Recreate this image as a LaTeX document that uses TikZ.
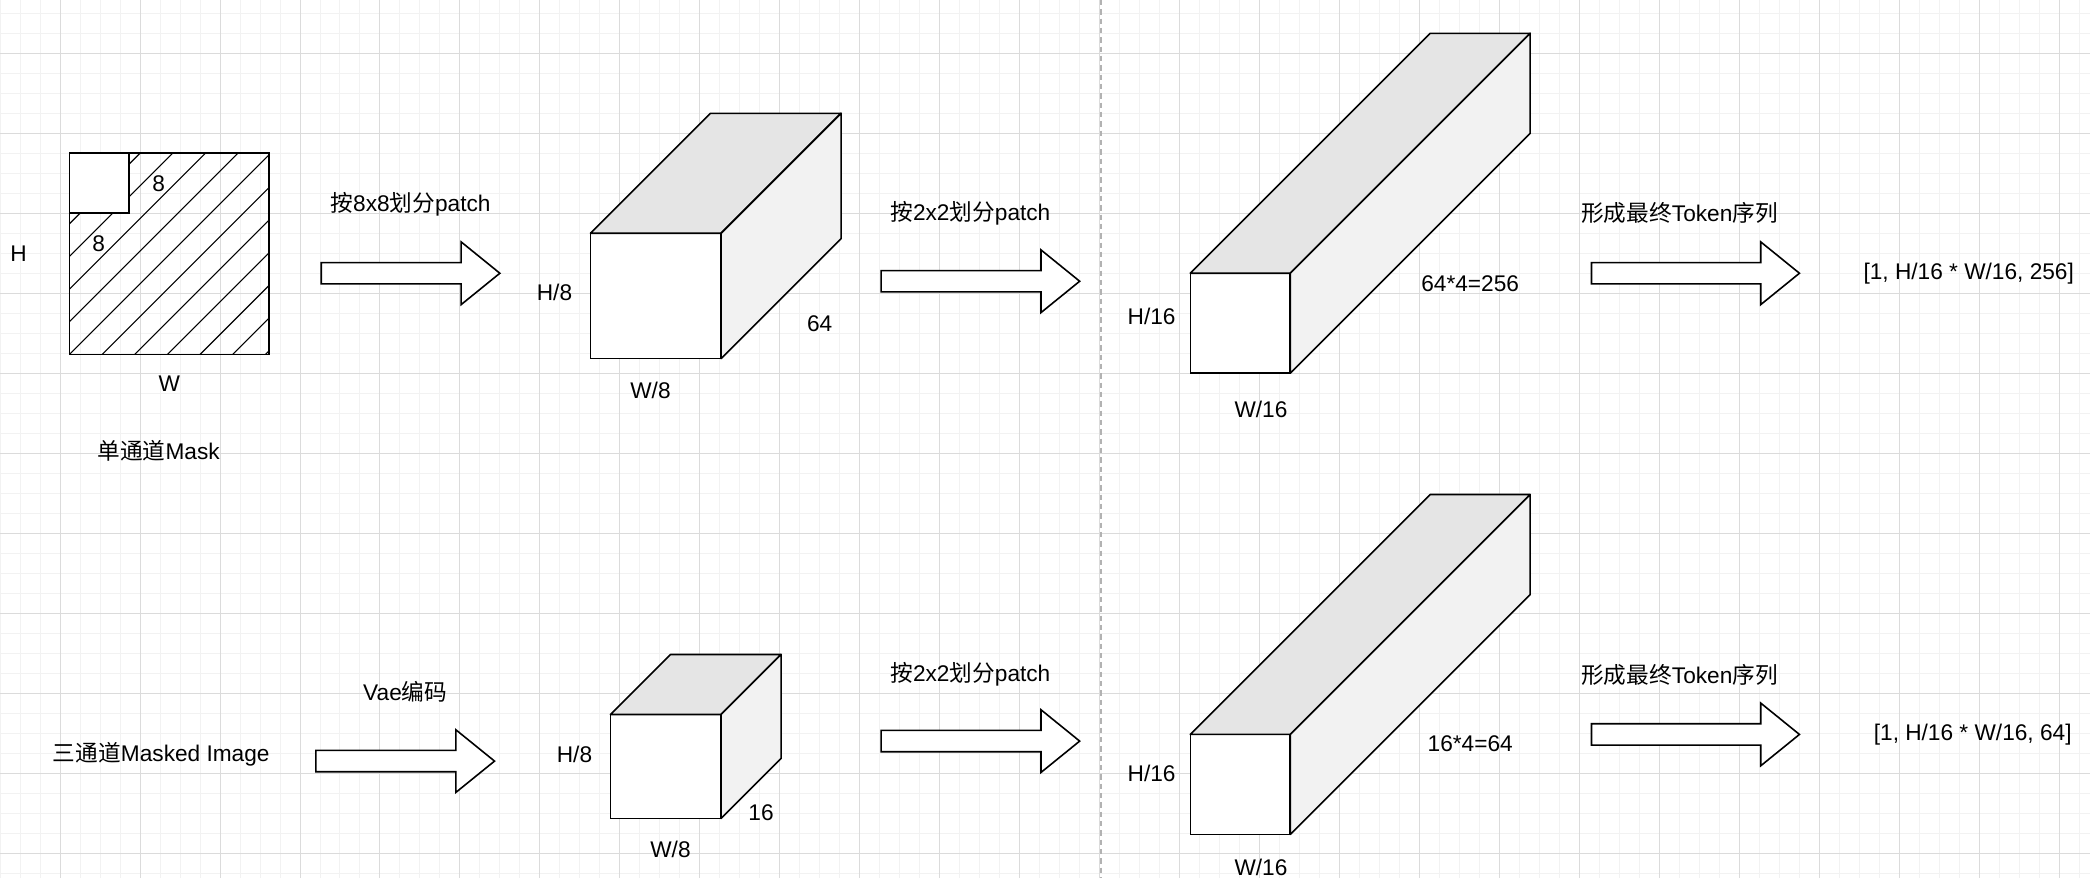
\documentclass[tikz,border=0pt]{standalone}
\usepackage{fontspec}
\setmainfont{Liberation Sans}
\newfontfamily\cjkfont{Noto Sans CJK SC}
\newcommand{\zh}[1]{{\cjkfont #1}}
\usetikzlibrary{positioning,calc}

\begin{document}
\begin{tikzpicture}[x=1pt,y=-1pt]
	\tikzstyle{every node}=[font=\fontsize{17}{20}\selectfont,inner sep=0pt]
	\tikzstyle{gridminor}=[draw=black!5,line width=0.6pt]
	\tikzstyle{gridmajor}=[draw=black!14,line width=0.6pt]
	\tikzstyle{divider}=[draw=black!30,line width=0.8pt,dash pattern=on 4pt off 3pt]
	\tikzstyle{front}=[draw,fill=white,line width=1.2pt,outer sep=0pt,anchor=north west]
	\tikzstyle{topface}=[draw,fill=black!10,line width=1.2pt,line join=round]
	\tikzstyle{sideface}=[draw,fill=black!5,line width=1.2pt,line join=round]
	\tikzstyle{blockarrow}=[draw,fill=white,line width=1.2pt]
	\tikzstyle{hatch}=[line width=0.8pt]

	%% background grid
	\useasboundingbox (0,0) rectangle (1568,659);
	\fill[white] (0,0) rectangle (1568,659);
	\foreach \x in {0,15,...,1568} \draw[gridminor] (\x,0) -- (\x,659);
	\foreach \y in {10,25,...,659} \draw[gridminor] (0,\y) -- (1568,\y);
	\foreach \x in {45,105,...,1568} \draw[gridmajor] (\x,0) -- (\x,659);
	\foreach \y in {40,100,...,659} \draw[gridmajor] (0,\y) -- (1568,\y);
	\draw[divider] (826,0) -- (826,659);

	%% single channel mask
	\begin{scope}
		\clip (52,115) rectangle (202,266);
		\foreach \k in {-6,...,6}
			\draw[hatch] (52+24.5*\k,266) -- ++(151,-151);
	\end{scope}
	\node[front,fill=none,minimum width=150pt,minimum height=151pt] (mask) at (52,115) {};
	\node[front,minimum size=45pt] (cell) at (mask.north west) {};
	\node (cellw) at (119,138) {8};
	\node (cellh) at (74,183) {8};
	\node (maskh) at (14,190) {H};
	\node (maskw) at (127,288) {W};
	\node (masklbl) at (119,338) {\zh{单通道}Mask};

	%% masked image
	\node (imglbl) at (121,566) {\zh{三通道}Masked Image};

	%% cuboids
	\node[front,minimum width=98pt,minimum height=94pt] (c1) at (443,175) {};
	\draw[topface] (c1.north west) -- ++(90,-90) -- ++(98,0) -- (c1.north east) -- cycle;
	\draw[sideface] (c1.north east) -- ++(90,-90) -- ++(0,94) -- (c1.south east) -- cycle;
	\node (c1h) at (416,219) {H/8};
	\node (c1w) at (488,293) {W/8};
	\node (c1d) at (615,243) {64};

	\node[front,minimum width=83pt,minimum height=78pt] (c2) at (458,536) {};
	\draw[topface] (c2.north west) -- ++(45,-45) -- ++(83,0) -- (c2.north east) -- cycle;
	\draw[sideface] (c2.north east) -- ++(45,-45) -- ++(0,78) -- (c2.south east) -- cycle;
	\node (c2h) at (431,566) {H/8};
	\node (c2w) at (503,637) {W/8};
	\node (c2d) at (571,610) {16};

	\node[front,minimum width=75pt,minimum height=75pt] (c3) at (893,205) {};
	\draw[topface] (c3.north west) -- ++(180,-180) -- ++(75,0) -- (c3.north east) -- cycle;
	\draw[sideface] (c3.north east) -- ++(180,-180) -- ++(0,75) -- (c3.south east) -- cycle;
	\node (c3h) at (864,237) {H/16};
	\node (c3w) at (946,307) {W/16};
	\node (c3d) at (1103,213) {64*4=256};

	\node[front,minimum width=75pt,minimum height=75pt] (c4) at (893,551) {};
	\draw[topface] (c4.north west) -- ++(180,-180) -- ++(75,0) -- (c4.north east) -- cycle;
	\draw[sideface] (c4.north east) -- ++(180,-180) -- ++(0,75) -- (c4.south east) -- cycle;
	\node (c4h) at (864,580) {H/16};
	\node (c4w) at (946,651) {W/16};
	\node (c4d) at (1103,558) {16*4=64};

	%% block arrows
	\coordinate (a1) at (241,205);
	\coordinate (a2) at (661,211);
	\coordinate (a3) at (1194,205);
	\coordinate (b1) at (237,571);
	\coordinate (b2) at (661,556);
	\coordinate (b3) at (1194,551);
	\foreach \s/\len in {a1/134,a2/149,a3/156,b1/134,b2/149,b3/156}
		\draw[blockarrow] (\s) ++(0,-8) -- ++(\len-29,0) -- ++(0,-15.5) -- ++(29,23.5)
			-- ++(-29,23.5) -- ++(0,-15.5) -- ++(-\len+29,0) -- cycle;

	\node (a1lbl) at (308,153) {\zh{按}8x8\zh{划分}patch};
	\node (a2lbl) at (728,160) {\zh{按}2x2\zh{划分}patch};
	\node (a3lbl) at (1260,160) {\zh{形成最终}Token\zh{序列}};
	\node (b1lbl) at (304,519) {Vae\zh{编码}};
	\node (b2lbl) at (728,506) {\zh{按}2x2\zh{划分}patch};
	\node (b3lbl) at (1260,506) {\zh{形成最终}Token\zh{序列}};

	%% outputs
	\node (out1) at (1477,205) {[1, H/16 * W/16, 256]};
	\node (out2) at (1480,551) {[1, H/16 * W/16, 64]};
\end{tikzpicture}
\end{document}
